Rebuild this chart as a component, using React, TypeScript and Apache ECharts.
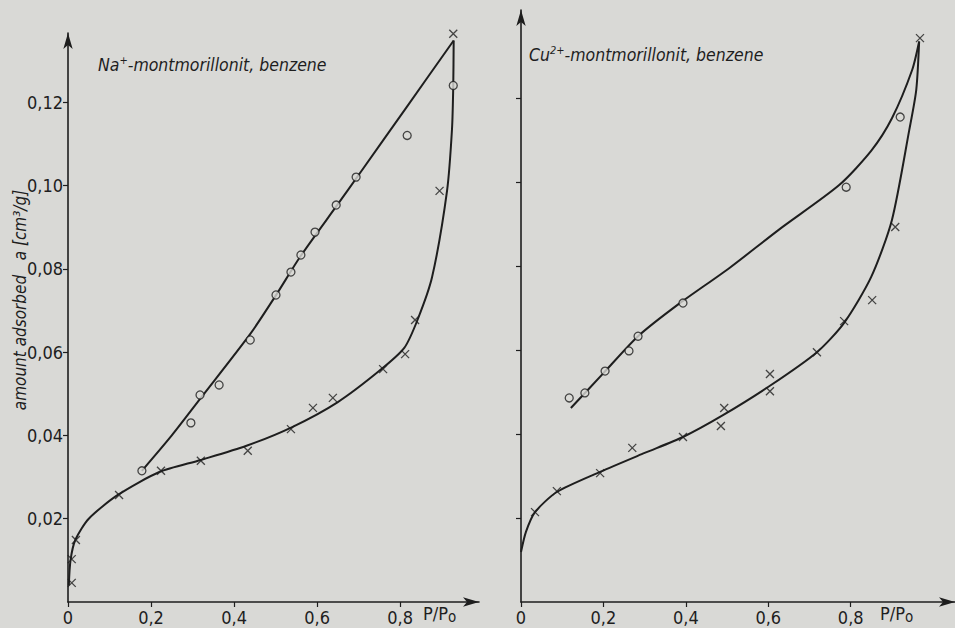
import React, { useEffect, useRef } from "react";
import * as echarts from "echarts";

// ---- Data (P/P0, amount adsorbed cm3/g) ----
// Left panel: Na+-montmorillonit, benzene
const naDesorbX = [0.928, 0.817, 0.694, 0.646, 0.595, 0.561, 0.537, 0.501, 0.439, 0.364, 0.318, 0.296, 0.178];
const naDesorbY = [0.124, 0.112, 0.102, 0.0953, 0.0888, 0.0833, 0.0792, 0.0737, 0.0629, 0.0521, 0.0497, 0.043, 0.0315];
const naAdsorbX = [0.928, 0.895, 0.836, 0.812, 0.759, 0.638, 0.590, 0.537, 0.433, 0.320, 0.224, 0.123, 0.019, 0.009, 0.009];
const naAdsorbY = [0.1364, 0.0987, 0.0677, 0.0595, 0.0559, 0.049, 0.0466, 0.0415, 0.0363, 0.0339, 0.0315, 0.0257, 0.0149, 0.0103, 0.0046];
const naAdsCurveX = [0.002, 0.006, 0.018, 0.05, 0.12, 0.22, 0.32, 0.43, 0.54, 0.65, 0.75, 0.81, 0.843, 0.877, 0.913, 0.925, 0.928, 0.929];
const naAdsCurveY = [0.004, 0.010, 0.015, 0.020, 0.0257, 0.0312, 0.0341, 0.0375, 0.042, 0.048, 0.0555, 0.061, 0.068, 0.078, 0.0987, 0.1136, 0.124, 0.1348];
const naDesCurveX = [0.178, 0.25, 0.32, 0.44, 0.50, 0.56, 0.65, 0.70, 0.817, 0.929];
const naDesCurveY = [0.0315, 0.040, 0.049, 0.0645, 0.0735, 0.083, 0.0955, 0.1025, 0.119, 0.1348];

// Right panel: Cu2+-montmorillonit, benzene
const cuDesorbX = [0.92, 0.789, 0.393, 0.284, 0.262, 0.204, 0.155, 0.117];
const cuDesorbY = [0.1155, 0.0988, 0.0712, 0.0633, 0.0598, 0.055, 0.0498, 0.0486];
const cuAdsorbX = [0.968, 0.908, 0.852, 0.784, 0.718, 0.604, 0.604, 0.493, 0.485, 0.393, 0.27, 0.192, 0.087, 0.034];
const cuAdsorbY = [0.1343, 0.0893, 0.0719, 0.0669, 0.0595, 0.0543, 0.0502, 0.0462, 0.0419, 0.0393, 0.0367, 0.0307, 0.0264, 0.0214];
const cuAdsCurveX = [0, 0.012, 0.034, 0.087, 0.192, 0.3, 0.393, 0.49, 0.604, 0.718, 0.784, 0.85, 0.90, 0.942, 0.959, 0.966];
const cuAdsCurveY = [0.0119, 0.0167, 0.0214, 0.0262, 0.031, 0.0355, 0.0393, 0.0445, 0.0515, 0.0595, 0.0665, 0.0775, 0.091, 0.1124, 0.122, 0.1335];
const cuDesCurveX = [0.121, 0.2, 0.284, 0.383, 0.505, 0.626, 0.772, 0.85, 0.90, 0.949, 0.966];
const cuDesCurveY = [0.0462, 0.0545, 0.0633, 0.071, 0.0795, 0.0887, 0.0993, 0.1075, 0.1152, 0.1267, 0.1335];

const xTicks = [0, 0.2, 0.4, 0.6, 0.8];
const yTicks = [0.02, 0.04, 0.06, 0.08, 0.1, 0.12];

const INK = "#1e1e1e";
const BG = "#d9d9d6";
const NUM_FONT = '"Liberation Sans Narrow", "DejaVu Sans Condensed", sans-serif';
const TXT_FONT = '"DejaVu Sans Condensed", "DejaVu Sans", sans-serif';
const CROSS = "path://M0,0L10,10M10,0L0,10";

const zip = (xs: number[], ys: number[]) => xs.map((x, i) => [x, ys[i]]);

export default function App() {
  const ref = useRef<HTMLDivElement>(null);
  useEffect(() => {
    document.body.style.margin = "0";
    const chart = echarts.init(ref.current!, null, { renderer: "svg" });

    const xAxisBase = (gridIndex: number, max: number) => ({
      type: "value",
      gridIndex,
      min: 0,
      max,
      interval: 0.2,
      splitLine: { show: false },
      axisLine: { show: true, lineStyle: { color: INK, width: 1.6 }, symbol: ["none", "arrow"], symbolSize: [7, 16] },
      axisTick: {
        show: true,
        length: 5,
        customValues: xTicks,
        lineStyle: { color: INK, width: 1.2 },
      },
      axisLabel: {
        margin: 6,
        color: INK,
        fontSize: 18,
        fontFamily: NUM_FONT,
        customValues: xTicks,
        formatter: (v: number) => (v === 0 ? "0" : v.toFixed(1).replace(".", ",")),
      },
    });
    const yAxisBase = (gridIndex: number, max: number, labels: boolean) => ({
      type: "value",
      gridIndex,
      min: 0,
      max,
      interval: 0.02,
      splitLine: { show: false },
      axisLine: { show: true, lineStyle: { color: INK, width: 1.6 }, symbol: ["none", "arrow"], symbolSize: [7, 16] },
      axisTick: { show: true, length: 5, customValues: yTicks, lineStyle: { color: INK, width: 1.2 } },
      axisLabel: {
        show: labels,
        margin: 5,
        color: INK,
        fontSize: 18,
        fontFamily: NUM_FONT,
        customValues: yTicks,
        formatter: (v: number) => v.toFixed(2).replace(".", ","),
      },
    });

    const curve = (x: number, y: number, xs: number[], ys: number[], w = 2) => ({
      type: "line",
      xAxisIndex: x,
      yAxisIndex: y,
      data: zip(xs, ys),
      smooth: 0.25,
      showSymbol: false,
      lineStyle: { color: INK, width: w },
      z: 2,
    });
    const circles = (i: number, xs: number[], ys: number[]) => ({
      type: "scatter",
      xAxisIndex: i,
      yAxisIndex: i,
      data: zip(xs, ys),
      symbol: "circle",
      symbolSize: 8,
      itemStyle: { color: BG, borderColor: INK, borderWidth: 1.3 },
      z: 3,
    });
    const crosses = (i: number, xs: number[], ys: number[]) => ({
      type: "scatter",
      xAxisIndex: i,
      yAxisIndex: i,
      data: zip(xs, ys),
      symbol: CROSS,
      symbolSize: 8,
      itemStyle: { color: "none", borderColor: INK, borderWidth: 1.3 },
      z: 3,
    });

    const titleStyle = (text: string, sup: string, rest: string) => ({
      text: `{n|${text}}{s|${sup}}{n|${rest}}`,
      rich: {
        n: { fontSize: 17.5, fontStyle: "italic", fontFamily: TXT_FONT, fill: INK, color: INK },
        s: { fontSize: 11, fontStyle: "italic", fontFamily: TXT_FONT, fill: INK, color: INK, verticalAlign: "top", padding: [0, 0, 9, 0] },
      },
      verticalAlign: "middle",
    });
    const pp = (x: number) => ({
      type: "text",
      x,
      y: 613,
      style: {
        text: "{n|P/P}{s|o}",
        rich: {
          n: { fontSize: 18, fontFamily: NUM_FONT, fill: INK, color: INK },
          s: { fontSize: 15, fontFamily: NUM_FONT, fill: INK, color: INK, padding: [8, 0, 0, 0] },
        },
        verticalAlign: "middle",
      },
    });

    chart.setOption({
      animation: false,
      backgroundColor: BG,
      grid: [
        { left: 68, top: 33, width: 411, height: 569 },
        { left: 521, top: 10, width: 434, height: 592 },
      ],
      xAxis: [xAxisBase(0, 0.99), xAxisBase(1, 1.053)],
      yAxis: [yAxisBase(0, 0.1366, true), yAxisBase(1, 0.141, false)],
      graphic: [
        { type: "text", x: 98, y: 65, style: titleStyle("Na", "+", "-montmorillonit, benzene") },
        { type: "text", x: 529, y: 55, style: titleStyle("Cu", "2+", "-montmorillonit, benzene") },
        {
          type: "text",
          x: 20,
          y: 300,
          rotation: Math.PI / 2,
          style: {
            text: "amount adsorbed   a [cm³/g]",
            fontSize: 17,
            fontStyle: "italic",
            fontFamily: TXT_FONT,
            fill: INK,
            align: "center",
            verticalAlign: "middle",
          },
        },
        pp(423),
        pp(880),
      ],
      series: [
        curve(0, 0, naAdsCurveX, naAdsCurveY),
        curve(0, 0, naDesCurveX, naDesCurveY),
        circles(0, naDesorbX, naDesorbY),
        crosses(0, naAdsorbX, naAdsorbY),
        curve(1, 1, cuAdsCurveX, cuAdsCurveY),
        curve(1, 1, cuDesCurveX, cuDesCurveY),
        circles(1, cuDesorbX, cuDesorbY),
        crosses(1, cuAdsorbX, cuAdsorbY),
      ],
    });
    return () => chart.dispose();
  }, []);
  return <div ref={ref} style={{ width: 955, height: 628 }} />;
}
